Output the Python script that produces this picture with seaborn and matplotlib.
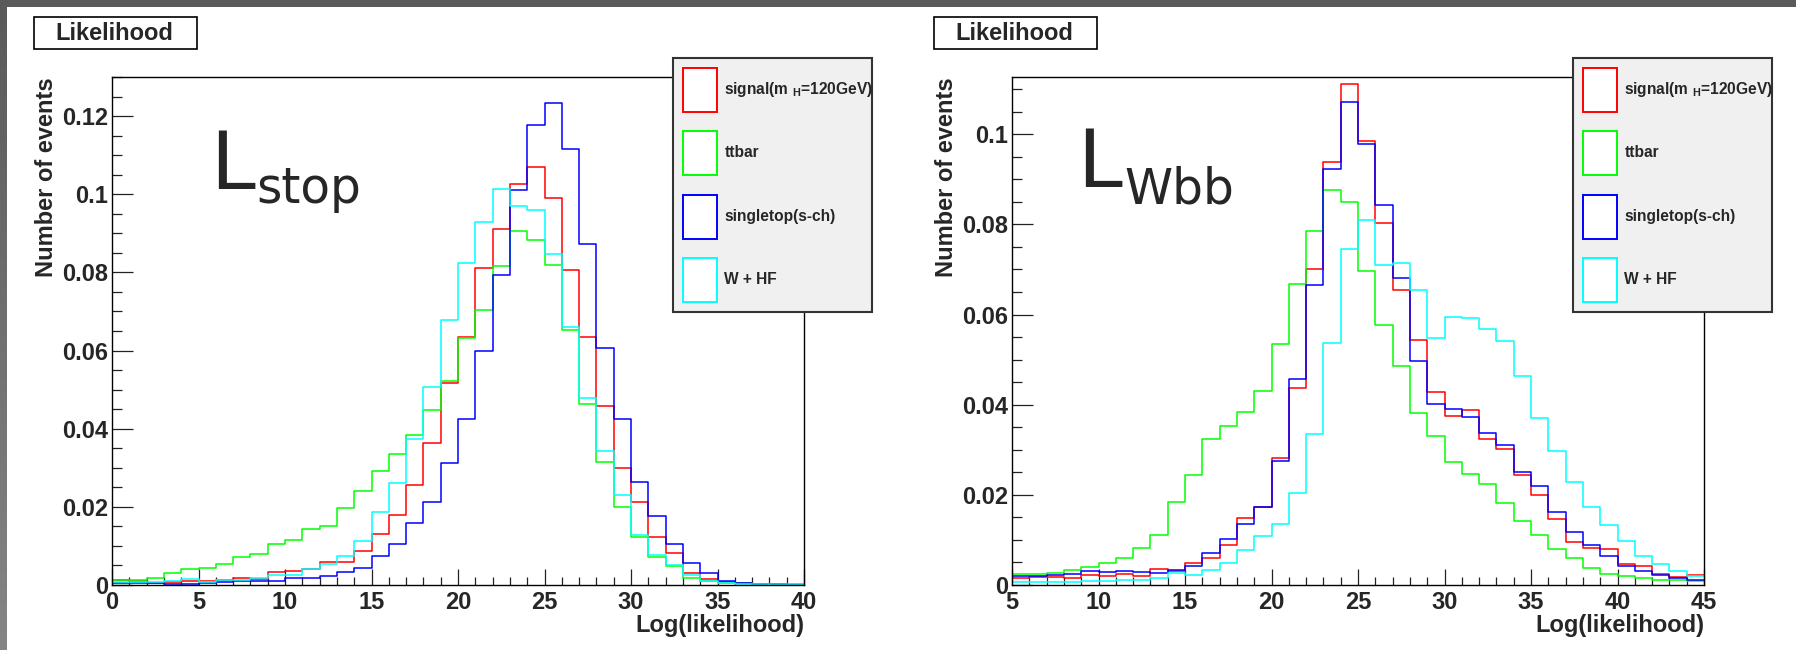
import numpy as np
import pandas as pd
import matplotlib
matplotlib.use("Agg")
import matplotlib.pyplot as plt
from matplotlib.patches import Rectangle
from matplotlib.ticker import MultipleLocator, FuncFormatter
import seaborn as sns

# ---------------- data ----------------
series_names = ["signal(m $_{\\rm H}$=120GeV)", "ttbar", "singletop(s-ch)", "W + HF"]
series_colors = ["#ff0000", "#00ff00", "#0000ff", "#00ffff"]

stop_edges = list(range(0, 41))
stop_signal = [0.0012, 0.0010, 0.0006, 0.0008, 0.0009, 0.0010, 0.0013, 0.0017, 0.0015, 0.0033,
               0.0037, 0.0040, 0.0059, 0.0059, 0.0088, 0.0130, 0.0178, 0.0256, 0.0363, 0.0517,
               0.0634, 0.0811, 0.0912, 0.1026, 0.1070, 0.0990, 0.0805, 0.0635, 0.0459, 0.0300,
               0.0213, 0.0123, 0.0083, 0.0030, 0.0015, 0.0008, 0.0005, 0.0002, 0.0002, 0.0001]
stop_ttbar = [0.0014, 0.0014, 0.0019, 0.0031, 0.0041, 0.0043, 0.0055, 0.0071, 0.0079, 0.0106,
              0.0115, 0.0144, 0.0152, 0.0198, 0.0240, 0.0293, 0.0335, 0.0384, 0.0449, 0.0523,
              0.0633, 0.0705, 0.0817, 0.0905, 0.0883, 0.0820, 0.0653, 0.0462, 0.0315, 0.0200,
              0.0123, 0.0072, 0.0048, 0.0019, 0.0009, 0.0005, 0.0004, 0.0003, 0.0002, 0.0002]
stop_single = [0.0004, 0.0004, 0.0004, 0.0003, 0.0003, 0.0004, 0.0008, 0.0009, 0.0010, 0.0011,
               0.0017, 0.0019, 0.0022, 0.0033, 0.0043, 0.0075, 0.0104, 0.0158, 0.0213, 0.0312,
               0.0424, 0.0600, 0.0793, 0.1011, 0.1178, 0.1233, 0.1115, 0.0872, 0.0607, 0.0426,
               0.0263, 0.0176, 0.0106, 0.0057, 0.0030, 0.0010, 0.0005, 0.0002, 0.0001, 0.0001]
stop_whf = [0.0007, 0.0007, 0.0007, 0.0009, 0.0015, 0.0007, 0.0014, 0.0014, 0.0018, 0.0025,
            0.0026, 0.0041, 0.0055, 0.0075, 0.0112, 0.0187, 0.0260, 0.0374, 0.0506, 0.0678,
            0.0823, 0.0930, 0.1013, 0.0970, 0.0960, 0.0846, 0.0660, 0.0478, 0.0343, 0.0231,
            0.0129, 0.0078, 0.0052, 0.0025, 0.0011, 0.0005, 0.0002, 0.0002, 0.0001, 0.0001]

wbb_edges = list(range(5, 46))
wbb_signal = [0.0015, 0.0017, 0.0017, 0.0015, 0.0022, 0.0019, 0.0024, 0.0019, 0.0036, 0.0032,
              0.0048, 0.0060, 0.0088, 0.0148, 0.0174, 0.0281, 0.0436, 0.0702, 0.0938, 0.1111,
              0.0985, 0.0802, 0.0654, 0.0544, 0.0428, 0.0376, 0.0388, 0.0324, 0.0301, 0.0243,
              0.0200, 0.0147, 0.0095, 0.0083, 0.0080, 0.0047, 0.0043, 0.0024, 0.0017, 0.0022]
wbb_ttbar = [0.0024, 0.0024, 0.0027, 0.0034, 0.0039, 0.0049, 0.0060, 0.0083, 0.0112, 0.0185,
             0.0243, 0.0325, 0.0353, 0.0383, 0.0431, 0.0534, 0.0668, 0.0785, 0.0877, 0.0850,
             0.0697, 0.0576, 0.0486, 0.0382, 0.0330, 0.0273, 0.0246, 0.0223, 0.0183, 0.0142,
             0.0110, 0.0080, 0.0060, 0.0037, 0.0024, 0.0021, 0.0015, 0.0011, 0.0010, 0.0008]
wbb_single = [0.0019, 0.0021, 0.0022, 0.0025, 0.0030, 0.0028, 0.0031, 0.0028, 0.0027, 0.0034,
              0.0043, 0.0070, 0.0101, 0.0135, 0.0172, 0.0275, 0.0456, 0.0665, 0.0922, 0.1071,
              0.0979, 0.0844, 0.0681, 0.0498, 0.0402, 0.0390, 0.0372, 0.0338, 0.0310, 0.0251,
              0.0219, 0.0162, 0.0117, 0.0089, 0.0064, 0.0042, 0.0031, 0.0022, 0.0016, 0.0010]
wbb_whf = [0.0006, 0.0006, 0.0006, 0.0006, 0.0008, 0.0008, 0.0010, 0.0010, 0.0015, 0.0027,
           0.0022, 0.0033, 0.0048, 0.0078, 0.0108, 0.0135, 0.0203, 0.0336, 0.0536, 0.0746,
           0.0810, 0.0709, 0.0714, 0.0654, 0.0549, 0.0594, 0.0592, 0.0567, 0.0541, 0.0463,
           0.0370, 0.0298, 0.0229, 0.0172, 0.0133, 0.0097, 0.0065, 0.0047, 0.0030, 0.0019]

panel_titles = ["Likelihood", "Likelihood"]
x_label = "Log(likelihood)"
y_label = "Number of events"

# ---------------- style ----------------
sns.set_style("white")
plt.rcParams["font.family"] = ["Liberation Sans", "DejaVu Sans"]
plt.rcParams["font.weight"] = "bold"
plt.rcParams["mathtext.fontset"] = "custom"
plt.rcParams["mathtext.rm"] = "Liberation Sans:bold"
plt.rcParams["mathtext.bf"] = "Liberation Sans:bold"

W, H = 1796, 650
fig = plt.figure(figsize=(W / 100, H / 100), dpi=100)
fig.patch.set_facecolor("white")


def fx(px):
    return px / W


def fy(py):
    return 1 - py / H


panels = [
    dict(left=112, edges=stop_edges, data=[stop_signal, stop_ttbar, stop_single, stop_whf],
         xlim=(0, 40), ylim=(0, 0.130), leg_left=673, title_left=34,
         L=(210, 189), sub=("stop", 256, 203)),
    dict(left=1012, edges=wbb_edges, data=[wbb_signal, wbb_ttbar, wbb_single, wbb_whf],
         xlim=(5, 45), ylim=(0, 0.1127), leg_left=1573, title_left=934,
         L=(1077, 187), sub=("Wbb", 1124, 203)),
]

ax_w, ax_top, ax_bot = 692, 77, 585

for p, title in zip(panels, panel_titles):
    ax = fig.add_axes([fx(p["left"]), fy(ax_bot), fx(ax_w), (ax_bot - ax_top) / H])
    edges = [float(e) for e in p["edges"]]
    centers = [(a + b) / 2 for a, b in zip(edges[:-1], edges[1:])]
    for vals, col in zip(p["data"], series_colors):
        df = pd.DataFrame({"x": centers, "w": vals})
        sns.histplot(data=df, x="x", weights="w", bins=edges, element="step", fill=False,
                     color=col, linewidth=1.1, ax=ax)
    ax.set_xlim(*p["xlim"])
    ax.set_ylim(*p["ylim"])
    ax.xaxis.set_major_locator(MultipleLocator(5))
    ax.xaxis.set_minor_locator(MultipleLocator(1))
    ax.yaxis.set_major_locator(MultipleLocator(0.02))
    ax.yaxis.set_minor_locator(MultipleLocator(0.005))
    ax.yaxis.set_major_formatter(FuncFormatter(lambda v, pos: "%g" % round(v, 4)))
    ax.xaxis.set_major_formatter(FuncFormatter(lambda v, pos: "%g" % v))
    ax.tick_params(axis="y", which="major", direction="in", length=15, width=0.9,
                   labelsize=17, pad=3, color="#222222")
    ax.tick_params(axis="y", which="minor", direction="in", length=7.5, width=0.9, color="#222222")
    ax.tick_params(axis="x", which="major", direction="in", length=11.5, width=0.9,
                   labelsize=17, pad=4, color="#222222")
    ax.tick_params(axis="x", which="minor", direction="in", length=6, width=0.9, color="#222222")
    ax.tick_params(left=True, bottom=True, which="both")
    for s in ax.spines.values():
        s.set_linewidth(1.0)
        s.set_color("black")
    ax.set_xlabel(x_label, fontsize=17, fontweight="bold", loc="right")
    ax.set_ylabel(y_label, fontsize=17, fontweight="bold", loc="top")
    ax.xaxis.set_label_coords(1.0, -0.058)
    ax.yaxis.set_label_coords(-0.078, 1.0)

    # big handwritten-like annotation
    Lx, Ly = p["L"]
    fig.text(fx(Lx), fy(Ly), "L", fontsize=58, fontweight="normal",
             family="DejaVu Sans", ha="left", va="baseline")
    sub_txt, sx, sy = p["sub"]
    fig.text(fx(sx), fy(sy), sub_txt, fontsize=35, fontweight="normal",
             family="DejaVu Sans", ha="left", va="baseline")

    # title box
    tl = p["title_left"]
    fig.patches.append(Rectangle((fx(tl), fy(49)), fx(163), 32 / H, transform=fig.transFigure,
                                 facecolor="white", edgecolor="black", linewidth=1.2, zorder=3))
    fig.text(fx(tl + 80), fy(33), title, fontsize=17, fontweight="bold",
             ha="center", va="center", zorder=4)

    # legend
    handles = [Rectangle((0, 0), 1, 1, facecolor="white", edgecolor=c, linewidth=1.4)
               for c in series_colors]
    ll = p["leg_left"]
    leg = fig.legend(handles, series_names, loc="upper left",
                     bbox_to_anchor=(fx(ll), fy(312), fx(199), 254 / H),
                     bbox_transform=fig.transFigure, mode="expand", borderaxespad=0,
                     frameon=True, fancybox=False, framealpha=1,
                     facecolor="#f0f0f0", edgecolor="#333333",
                     handlelength=2.24, handleheight=3.975, handletextpad=0.45,
                     labelspacing=1.25, borderpad=0.62, prop={"weight": "bold", "size": 11.2})
    leg.get_frame().set_linewidth(1.5)

# page decorations (dark top band and left strip)
fig.patches.append(Rectangle((0, fy(7)), 1, 7 / H, transform=fig.transFigure,
                             facecolor="#5a5a5a", edgecolor="none", zorder=10))
grad_ax = fig.add_axes([0, 0, fx(7), 1])
grad = np.linspace(0.35, 0.52, 256).reshape(-1, 1)
grad_ax.imshow(grad, cmap="gray", vmin=0, vmax=1, aspect="auto", extent=(0, 1, 1, 0))
grad_ax.set_axis_off()

fig.savefig("out.png", dpi=100)
